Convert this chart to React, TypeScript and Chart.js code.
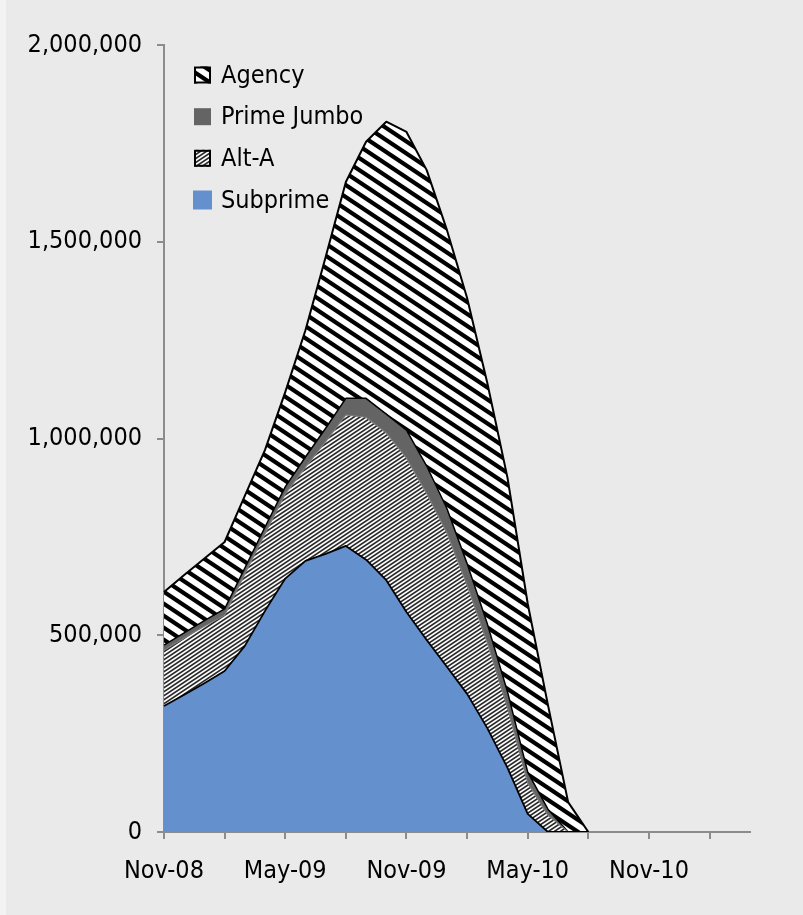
import React, { useEffect, useRef } from 'react';
import { Chart, registerables } from 'chart.js';

Chart.register(...registerables);

// ---- data ----
const MONTHS = [
  'Nov-08', 'Dec-08', 'Jan-09', 'Feb-09', 'Mar-09', 'Apr-09', 'May-09', 'Jun-09', 'Jul-09', 'Aug-09',
  'Sep-09', 'Oct-09', 'Nov-09', 'Dec-09', 'Jan-10', 'Feb-10', 'Mar-10', 'Apr-10', 'May-10', 'Jun-10',
  'Jul-10', 'Aug-10', 'Sep-10', 'Oct-10', 'Nov-10', 'Dec-10', 'Jan-11', 'Feb-11', 'Mar-11', 'Apr-11',
];

const SUBPRIME = [
  320000, 349000, 378000, 409000, 473000, 562000, 644000, 689000, 707000, 727000, 692000,
  640000, 559000, 488000, 420000, 351000, 264000, 163000, 46000, 0, 0, 0,
];
const ALT_A = [
  142000, 144000, 145000, 142000, 183000, 196000, 215000, 238000, 285000, 333000, 362000,
  374000, 391000, 372000, 340000, 276000, 217000, 153000, 78000, 43000, 0, 0,
];
const PRIME_JUMBO = [
  13000, 13000, 14000, 16000, 15000, 17000, 18000, 26000, 34000, 42000, 48000,
  48000, 71000, 70000, 62000, 55000, 48000, 40000, 28000, 15000, 0, 0,
];
const AGENCY = [
  135000, 147000, 158000, 170000, 183000, 196000, 241000, 322000, 435000, 550000, 652000,
  743000, 758000, 752000, 708000, 675000, 612000, 544000, 428000, 265000, 76000, 0,
];

const SERIES_NAMES = ['Subprime', 'Alt-A', 'Prime Jumbo', 'Agency'];
const LEGEND_ORDER = ['Agency', 'Prime Jumbo', 'Alt-A', 'Subprime'];

const Y_MIN = 0;
const Y_MAX = 2000000;
const Y_STEP = 500000;

// ---- styling ----
const FONT = "'DejaVu Sans Condensed', 'DejaVu Sans', sans-serif";
const BG = '#eaeaea';
const AXIS = '#8c8c8c';
const BLUE = '#6490cd';
const GRAY = '#646464';

function stripeTile(
  w: number, h: number, slope: number, period: number, duty: number,
  rising: boolean, dark: number[], light: number[],
): HTMLCanvasElement {
  const c = document.createElement('canvas');
  c.width = w;
  c.height = h;
  const g = c.getContext('2d')!;
  const img = g.createImageData(w, h);
  const S = 6;
  for (let y = 0; y < h; y++) {
    for (let x = 0; x < w; x++) {
      let cov = 0;
      for (let sy = 0; sy < S; sy++) {
        for (let sx = 0; sx < S; sx++) {
          const xx = x + (sx + 0.5) / S;
          const yy = y + (sy + 0.5) / S;
          const v = rising ? yy + slope * xx : yy - slope * xx;
          let t = (v % period) / period;
          if (t < 0) t += 1;
          if (t < duty) cov++;
        }
      }
      const a = cov / (S * S);
      const i = (y * w + x) * 4;
      for (let k = 0; k < 3; k++) img.data[i + k] = Math.round(dark[k] * a + light[k] * (1 - a));
      img.data[i + 3] = 255;
    }
  }
  g.putImageData(img, 0, 0);
  return c;
}

const insideLegend = {
  id: 'insideLegend',
  afterDraw(chart: any) {
    const ctx = chart.ctx as CanvasRenderingContext2D;
    const rows = [75, 116.7, 158.3, 200];
    ctx.save();
    ctx.font = `25px ${FONT}`;
    ctx.textBaseline = 'middle';
    ctx.textAlign = 'left';
    LEGEND_ORDER.forEach((name, k) => {
      const ds = chart.data.datasets.find((d: any) => d.label === name);
      if (!ds) return;
      const cy = rows[k];
      const size = name === 'Subprime' ? 19 : 17;
      const x0 = 202.5 - size / 2;
      const y0 = cy - size / 2;
      ctx.fillStyle = ds.backgroundColor;
      ctx.fillRect(x0, y0, size, size);
      if (name === 'Agency' || name === 'Alt-A') {
        ctx.strokeStyle = '#000';
        ctx.lineWidth = 2;
        ctx.strokeRect(x0 + 1, y0 + 1, size - 2, size - 2);
      }
      ctx.fillStyle = '#000';
      ctx.fillText(name, 221, cy + 1);
    });
    ctx.restore();
  },
};

export default function App() {
  const ref = useRef<HTMLCanvasElement | null>(null);

  useEffect(() => {
    const canvas = ref.current;
    if (!canvas) return;
    const agencyPat = canvas.getContext('2d')!.createPattern(
      stripeTile(18, 12, 2 / 3, 12, 0.42, false, [0, 0, 0], [255, 255, 255]), 'repeat');
    const altPat = canvas.getContext('2d')!.createPattern(
      stripeTile(6, 4, 2 / 3, 4, 0.5, true, [40, 40, 40], [255, 255, 255]), 'repeat');

    const seriesData = [SUBPRIME, ALT_A, PRIME_JUMBO, AGENCY];
    const fills = [BLUE, altPat, GRAY, agencyPat];
    const borders = ['#000', '#7a7a7a', '#000', '#000'];
    const widths = [1.8, 1.2, 1.5, 2];

    const chart = new Chart(canvas, {
      type: 'line',
      data: {
        labels: MONTHS,
        datasets: SERIES_NAMES.map((name, i) => ({
          label: name,
          data: seriesData[i],
          backgroundColor: fills[i] as any,
          borderColor: borders[i],
          borderWidth: widths[i],
          fill: i === 0 ? 'origin' : '-1',
          pointRadius: 0,
          pointHoverRadius: 0,
          tension: 0,
          borderJoinStyle: 'round' as const,
        })),
      },
      options: {
        animation: false,
        responsive: false,
        devicePixelRatio: 1,
        events: [],
        layout: { padding: { left: 0, top: 45, right: 53, bottom: 0 } },
        plugins: {
          legend: { display: false },
          tooltip: { enabled: false },
          title: { display: false },
        },
        scales: {
          x: {
            type: 'category',
            offset: false,
            afterFit: (s: any) => { s.height = 83; },
            grid: {
              drawOnChartArea: false,
              drawTicks: true,
              tickLength: 7,
              lineWidth: 2,
              color: (c: any) => (c.index % 3 === 0 ? AXIS : 'rgba(0,0,0,0)'),
            },
            border: { display: true, color: AXIS, width: 2 },
            ticks: {
              autoSkip: false,
              maxRotation: 0,
              minRotation: 0,
              padding: 17,
              color: '#000',
              font: { family: FONT, size: 25 },
              callback: (_v: any, index: number) => (index % 6 === 0 ? MONTHS[index] : ''),
            },
          },
          y: {
            type: 'linear',
            stacked: true,
            min: Y_MIN,
            max: Y_MAX,
            afterFit: (s: any) => { s.width = 164; },
            grid: {
              drawOnChartArea: false,
              drawTicks: true,
              tickLength: 7,
              lineWidth: 2,
              color: AXIS,
            },
            border: { display: true, color: AXIS, width: 2 },
            ticks: {
              stepSize: Y_STEP,
              padding: 15,
              color: '#000',
              font: { family: FONT, size: 25 },
              callback: (v: any) => Number(v).toLocaleString('en-US'),
            },
          },
        },
      },
      plugins: [insideLegend],
    });
    return () => chart.destroy();
  }, []);

  return (
    <div style={{ position: 'absolute', left: 0, top: 0, width: 803, height: 915, background: '#f3f3f3' }}>
      <div style={{ position: 'absolute', left: 6, top: 0, width: 797, height: 915, background: BG }} />
      <canvas ref={ref} width={803} height={915} style={{ position: 'absolute', left: 0, top: 0, display: 'block' }} />
    </div>
  );
}
